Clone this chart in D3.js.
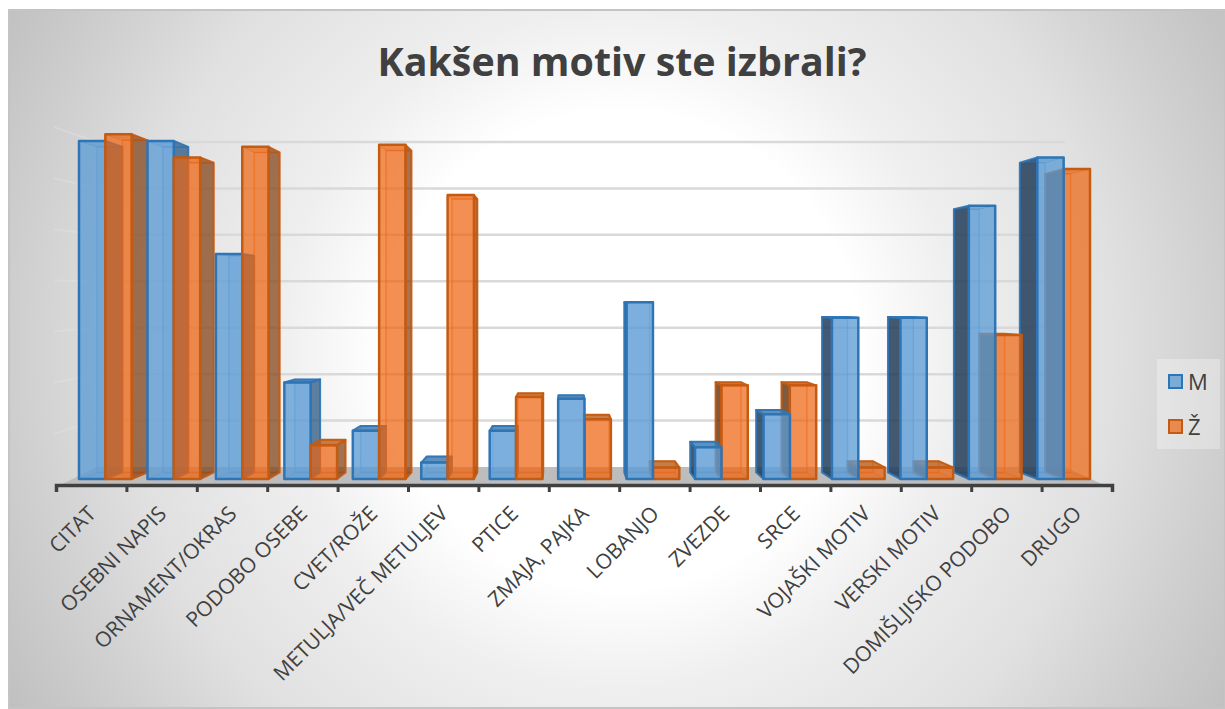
<!DOCTYPE html>
<html>
<head>
<meta charset="utf-8">
<script src="https://d3js.org/d3.v7.min.js"></script>
<style>
html, body { margin: 0; padding: 0; background: #fff; }
svg { display: block; }
text { font-family: "Open Sans", sans-serif; fill: #404040; }
</style>
</head>
<body>
<script>
var width = 1225,
    height = 709;

var categories = ["CITAT", "OSEBNI NAPIS", "ORNAMENT/OKRAS", "PODOBO OSEBE", "CVET/ROŽE",
    "METULJA/VEČ METULJEV", "PTICE", "ZMAJA, PAJKA", "LOBANJO", "ZVEZDE", "SRCE",
    "VOJAŠKI MOTIV", "VERSKI MOTIV", "DOMIŠLJISKO PODOBO", "DRUGO"];
var seriesNames = ["M", "Ž"];
var valuesM = [35, 35, 23.3, 10, 5, 1.7, 5, 8.3, 18.3, 3.3, 6.7, 16.7, 16.7, 28.3, 33.3];
var valuesZ = [35.7, 33.3, 34.4, 3.5, 34.6, 29.4, 8.5, 6.2, 1.2, 9.7, 9.7, 1.2, 1.2, 14.9, 32.1];
var gridValues = [0, 5, 10, 15, 20, 25, 30, 35];

var colors = {
    "M": { front: "#5B9BD5", line: "#2E75B6", top: "#3f78ad", right: "#1F4E79", left: "#1c3550", alpha: 0.76, inner: 0.16 },
    "Ž": { front: "#EE6410", line: "#C55A11", top: "#b5601f", right: "#7a3a0c", left: "#5e3413", alpha: 0.7, inner: 0.07 }
};

var svg = d3.select("body").append("svg")
    .attr("width", width)
    .attr("height", height);

// background
var grad = svg.append("defs").append("radialGradient")
    .attr("id", "bg")
    .attr("gradientUnits", "userSpaceOnUse")
    .attr("cx", 620).attr("cy", 350).attr("r", 720);
[[0, "#fff"], [0.33, "#fff"], [0.47, "#efefef"], [0.69, "#e0e0e0"], [0.83, "#d0d0d0"], [1, "#bebebe"]]
    .forEach(s => grad.append("stop").attr("offset", s[0]).attr("stop-color", s[1]));

svg.append("rect")
    .attr("x", 9).attr("y", 10)
    .attr("width", width - 9).attr("height", 698)
    .attr("fill", "url(#bg)")
    .attr("stroke", "#c4c4c4")
    .attr("stroke-width", 2);

svg.append("text")
    .attr("x", 622).attr("y", 76)
    .attr("text-anchor", "middle")
    .style("font-size", "39.4px")
    .style("font-weight", 700)
    .text("Kakšen motiv ste izbrali?");

// scales. the wall sits further back so it gets its own
var yBar = d3.scaleLinear().domain([0, 35]).range([479, 141]);
var yWall = d3.scaleLinear().domain([0, 35]).range([467, 142]);
var yLeft = d3.scaleLinear().domain([0, 35]).range([485, 127]);
var xWall = d3.scaleLinear().domain([0, 1]).range([97, 1065]);
var xAxisPos = d3.scaleLinear().domain([0, categories.length]).range([56, 1112]);
var xLabel = d3.scaleBand().domain(categories).range([56, 1112]);
var xBar = d3.scaleBand().domain(categories).range([79, 1090]).paddingInner(0.23).paddingOuter(0);
var xSeries = d3.scaleBand().domain(seriesNames).range([0, xBar.bandwidth()]);

// vanishing point and how far back the bars reach
var vx = 565, vy = 300, depth = 0.037;
function back(x, y) {
    return [x + (vx - x) * depth, y + (vy - y) * depth];
}
var poly = d3.line();

// floor
svg.append("path")
    .attr("d", poly([[xWall(0), yWall(0)], [xWall(1), yWall(0)], [xAxisPos(15) - 8, yLeft(0)], [xAxisPos(0) + 4, yLeft(0)]]) + "Z")
    .attr("fill", "#bdbdbd");

// left wall lines
svg.append("g").selectAll("line")
    .data(gridValues.slice(1))
    .enter().append("line")
    .attr("x1", xAxisPos(0) - 2).attr("x2", xWall(0))
    .attr("y1", d => yLeft(d)).attr("y2", d => yWall(d))
    .attr("stroke", "#e6e6e6").attr("stroke-width", 2).attr("opacity", 0.35);

// back wall lines
svg.append("g").selectAll("line")
    .data(gridValues.slice(1))
    .enter().append("line")
    .attr("x1", xWall(0)).attr("x2", xWall(1))
    .attr("y1", d => yWall(d)).attr("y2", d => yWall(d))
    .attr("stroke", "#d9d9d9").attr("stroke-width", 2.5);

// axis
var tickAxis = d3.axisBottom(xAxisPos).ticks(categories.length).tickSize(7).tickFormat("");
var gTicks = svg.append("g").attr("transform", "translate(0,485)").call(tickAxis);
gTicks.select(".domain").attr("stroke", "#404040").attr("stroke-width", 3.5);
gTicks.selectAll(".tick line").attr("stroke", "#404040").attr("stroke-width", 3);

var labelAxis = d3.axisBottom(xLabel).tickSize(0).tickPadding(0);
var gLabels = svg.append("g").attr("transform", "translate(0,485)").call(labelAxis);
gLabels.select(".domain").remove();
gLabels.selectAll("text")
    .attr("text-anchor", "end")
    .attr("x", 0).attr("y", 0).attr("dy", 0)
    .attr("transform", "translate(6,30) rotate(-45)")
    .style("font-size", "21px")
    .style("font-family", "'Open Sans', sans-serif")
    .style("fill", "#404040");

// bars
var bars = [];
categories.forEach(function(c, i) {
    bars.push({ cat: c, s: "M", v: valuesM[i] });
    bars.push({ cat: c, s: "Ž", v: valuesZ[i] });
});
bars.forEach(function(b) {
    b.x0 = xBar(b.cat) + xSeries(b.s);
    b.x1 = b.x0 + xSeries.bandwidth();
    b.mid = (b.x0 + b.x1) / 2;
});
// outer bars first, the ones near the vanishing point go on top
bars.sort((a, b) => Math.abs(b.mid - vx) - Math.abs(a.mid - vx));

var gBars = svg.append("g");
bars.forEach(function(b) {
    var col = colors[b.s];
    var g = gBars.append("g");
    var t = yBar(b.v), base = yBar(0);
    var fl = [b.x0, base], fr = [b.x1, base], tl = [b.x0, t], tr = [b.x1, t];
    var bfl = back(b.x0, base), bfr = back(b.x1, base), btl = back(b.x0, t), btr = back(b.x1, t);

    function face(pts, fill, alpha, stroke, sw, strokeAlpha) {
        g.append("path")
            .attr("d", poly(pts) + "Z")
            .attr("fill", fill).attr("fill-opacity", alpha)
            .attr("stroke", stroke).attr("stroke-width", sw)
            .attr("stroke-opacity", strokeAlpha)
            .attr("stroke-linejoin", "round");
    }

    // inner faces, seen through the front
    face([btl, btr, bfr, bfl], col.front, col.inner, col.front, 1.5, 0.5);
    face([fl, fr, bfr, bfl], col.front, col.inner, col.front, 1.5, 0.35);

    if (b.x1 < vx) {
        face([tr, btr, bfr, fr], col.right, 0.68, col.line, 2, 0.9);
    } else if (b.x0 > vx) {
        face([tl, btl, bfl, fl], col.left, 0.8, col.line, 2, 0.9);
    }

    var topSeen = t > vy;
    face([tl, tr, btr, btl], col.top, topSeen ? 0.8 : 0.2, col.line, topSeen ? 2 : 1, topSeen ? 0.95 : 0.4);

    face([tl, tr, fr, fl], col.front, col.alpha, col.line, 2.5, 1);
});

// legend
svg.append("rect")
    .attr("x", 1157).attr("y", 359)
    .attr("width", 63).attr("height", 90)
    .attr("fill", "#fff").attr("fill-opacity", 0.3);

var yLegend = d3.scalePoint().domain(seriesNames).range([382, 427]);
var legend = svg.append("g").selectAll("g")
    .data(seriesNames)
    .enter().append("g")
    .attr("transform", d => "translate(1168," + yLegend(d) + ")");
legend.append("rect")
    .attr("x", 1).attr("y", -7)
    .attr("width", 13).attr("height", 13)
    .attr("fill", d => colors[d].front)
    .attr("fill-opacity", d => colors[d].alpha)
    .attr("stroke", d => colors[d].line)
    .attr("stroke-width", 2);
legend.append("text")
    .attr("x", 20).attr("y", 8)
    .style("font-size", "22px")
    .text(d => d);
</script>
</body>
</html>
